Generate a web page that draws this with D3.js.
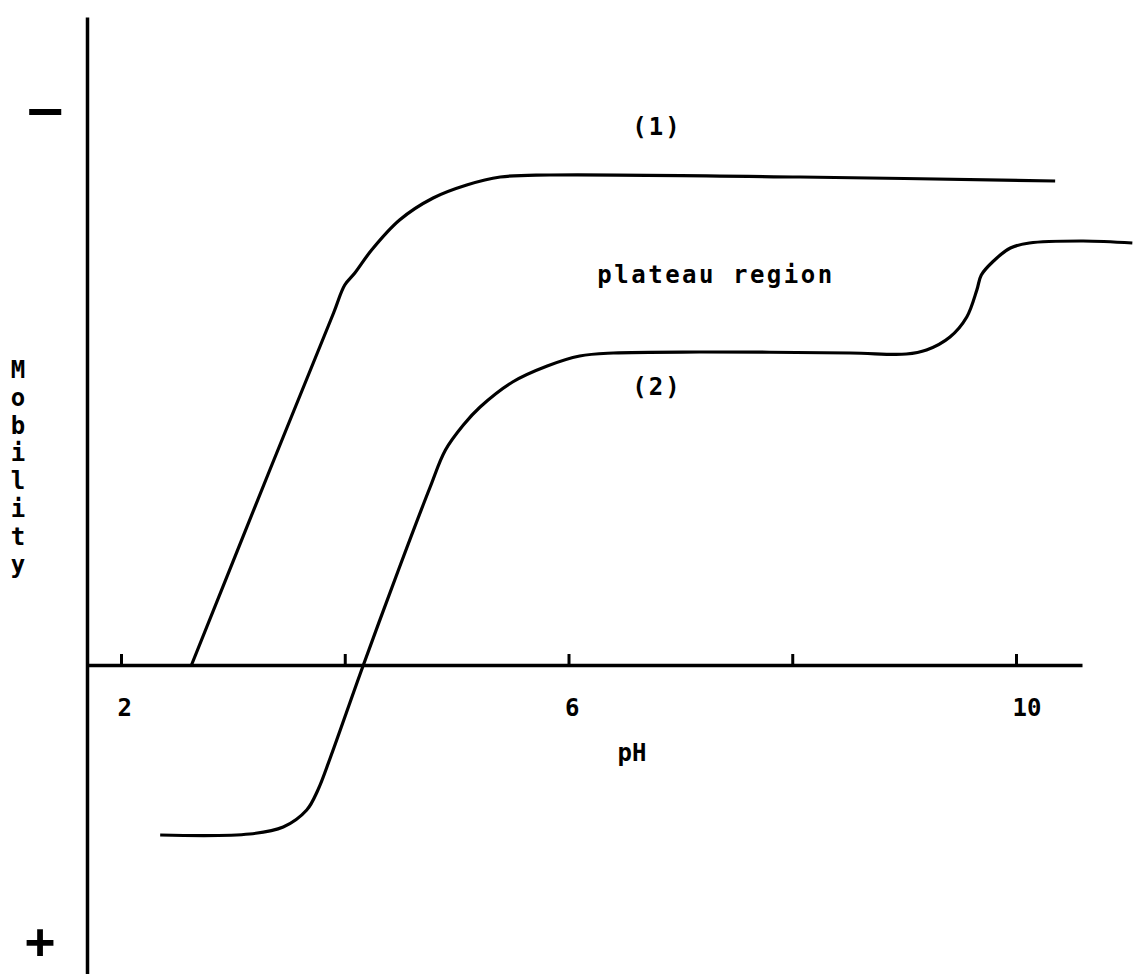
<!DOCTYPE html>
<html>
<head>
<meta charset="utf-8">
<script src="https://cdn.jsdelivr.net/npm/d3@7"></script>
<style>
  body { margin: 0; background: #fff; }
  text { font-family: "DejaVu Sans Mono", monospace; fill: #000; font-weight: bold; }
</style>
</head>
<body>
<div id="chart"></div>
<script>
// Size for SVG
let svgWidth = 1133;
let svgHeight = 974;

// Curve (1): pH vs mobility (arbitrary units, "-" upward)
let curve1PH  = [2.63, 3.33, 3.90, 4.00, 4.09, 4.24, 4.49, 4.79, 5.09, 5.39, 5.83, 8.07, 10.35];
let curve1Mob = [0.00, 1.95, 3.52, 3.80, 3.92, 4.15, 4.45, 4.67, 4.80, 4.88, 4.90, 4.88, 4.84];

// Curve (2)
let curve2PH  = [2.35, 3.15, 3.45, 3.66, 3.76, 3.87, 4.16, 4.49, 4.76, 4.90, 5.06, 5.21, 5.50, 5.81, 6.10, 6.40, 7.17, 8.52, 9.02, 9.20, 9.41, 9.56, 9.65, 9.69, 9.79, 9.95, 10.12, 10.60, 11.04];
let curve2Mob = [-1.70, -1.69, -1.62, -1.45, -1.25, -0.93, -0.02, 0.98, 1.77, 2.15, 2.40, 2.58, 2.83, 2.99, 3.09, 3.12, 3.13, 3.12, 3.11, 3.15, 3.28, 3.48, 3.75, 3.90, 4.03, 4.17, 4.22, 4.24, 4.22];

// Axis ticks
let tickValues = [2, 4, 6, 8, 10];
let tickLabels = {2: "2", 6: "6", 10: "10"};

let svg = d3.select("#chart")
  .append("svg")
  .attr("width", svgWidth)
  .attr("height", svgHeight);

// Scales
let xScale = d3.scaleLinear().domain([1.696, 10.59]).range([87, 1082]);
let yScale = d3.scaleLinear().domain([-3.09, 6.48]).range([974, 17]);

// x axis (ticks pointing up, labels below)
let bottomAxis = d3.axisBottom(xScale)
  .tickValues(tickValues)
  .tickSizeInner(-11)
  .tickSizeOuter(0)
  .tickPadding(34)
  .tickFormat(d => tickLabels[d] || "");

let xAxisG = svg.append("g")
  .attr("transform", `translate(0, ${yScale(0)})`)
  .call(bottomAxis);
xAxisG.select(".domain").attr("stroke", "#000").attr("stroke-width", 3.5);
xAxisG.selectAll(".tick line").attr("stroke", "#000").attr("stroke-width", 3);
xAxisG.selectAll(".tick text")
  .attr("font-family", "DejaVu Sans Mono")
  .attr("font-size", 24)
  .attr("font-weight", "bold")
  .attr("text-anchor", "start")
  .attr("dx", -4)
  .attr("fill", "#000");

// y axis (plain line)
let leftAxis = d3.axisLeft(yScale).tickValues([]).tickSizeOuter(0);
let yAxisG = svg.append("g")
  .attr("transform", `translate(${xScale(1.696)}, 0)`)
  .call(leftAxis);
yAxisG.select(".domain").attr("stroke", "#000").attr("stroke-width", 3.5);

// Curves
let line = d3.line()
  .x(d => xScale(d[0]))
  .y(d => yScale(d[1]))
  .curve(d3.curveCatmullRom.alpha(0.5));

let data1 = curve1PH.map((p, i) => [p, curve1Mob[i]]);
let data2 = curve2PH.map((p, i) => [p, curve2Mob[i]]);

svg.append("path")
  .datum(data1)
  .attr("d", line)
  .attr("fill", "none")
  .attr("stroke", "#000")
  .attr("stroke-width", 3.2);

svg.append("path")
  .datum(data2)
  .attr("d", line)
  .attr("fill", "none")
  .attr("stroke", "#000")
  .attr("stroke-width", 3.2);

// Annotations
svg.append("text")
  .attr("x", 657).attr("y", 135)
  .attr("text-anchor", "middle")
  .attr("font-size", 24)
  .attr("letter-spacing", 2)
  .text("(1)");

svg.append("text")
  .attr("x", 657).attr("y", 395)
  .attr("text-anchor", "middle")
  .attr("font-size", 24)
  .attr("letter-spacing", 2)
  .text("(2)");

svg.append("text")
  .attr("x", 716).attr("y", 283)
  .attr("text-anchor", "middle")
  .attr("font-size", 24)
  .attr("letter-spacing", 2.5)
  .text("plateau region");

svg.append("text")
  .attr("x", 632).attr("y", 761)
  .attr("text-anchor", "middle")
  .attr("font-size", 24)
  .text("pH");

// Vertical "Mobility" label
let mob = svg.append("text")
  .attr("x", 18).attr("y", 378)
  .attr("text-anchor", "middle")
  .attr("font-size", 24);
"Mobility".split("").forEach((ch, i) => {
  mob.append("tspan")
    .attr("x", 18)
    .attr("dy", i === 0 ? 0 : 27.8)
    .text(ch);
});

// Sign markers
svg.append("text")
  .attr("x", 45).attr("y", 128)
  .attr("text-anchor", "middle")
  .attr("font-family", "DejaVu Sans")
  .attr("font-size", 52)
  .attr("font-weight", "normal")
  .attr("textLength", 36)
  .attr("lengthAdjust", "spacingAndGlyphs")
  .text("\u2212");

svg.append("text")
  .attr("x", 40).attr("y", 958)
  .attr("text-anchor", "middle")
  .attr("font-family", "DejaVu Sans")
  .attr("font-size", 50)
  .attr("font-weight", "normal")
  .text("+");
</script>
</body>
</html>
